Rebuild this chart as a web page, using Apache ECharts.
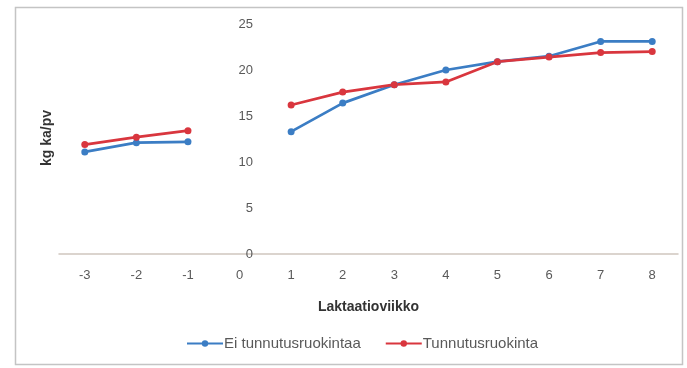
<!DOCTYPE html>
<html>
<head>
<meta charset="utf-8">
<script src="https://cdn.jsdelivr.net/npm/echarts@6/dist/echarts.min.js"></script>
<style>
  html, body { margin: 0; padding: 0; background: #fff; }
  #chart { width: 687px; height: 368px; }
</style>
</head>
<body>
<div id="chart"></div>
<script>
// Lactation weeks relative to calving; week 0 has no measurement
const weeks = ['-3', '-2', '-1', '0', '1', '2', '3', '4', '5', '6', '7', '8'];
// Dry matter intake, kg ka/pv
const eiTunnutus = [11.1, 12.1, 12.2, null, 13.3, 16.4, 18.4, 20.0, 20.9, 21.5, 23.1, 23.1];
const tunnutus   = [11.9, 12.7, 13.4, null, 16.2, 17.6, 18.4, 18.7, 20.9, 21.4, 21.9, 22.0];
const yTicks = [0, 5, 10, 15, 20, 25];

const chart = echarts.init(document.getElementById('chart'));
const textColor = '#595959';
const font = 'Liberation Sans';

const lineSeries = (name, data, color) => ({
  name: name,
  type: 'line',
  data: data,
  connectNulls: false,
  symbol: 'circle',
  symbolSize: 7,
  lineStyle: { color: color, width: 2.75 },
  itemStyle: { color: color },
  emphasis: { disabled: true },
  animation: false
});

chart.setOption({
  backgroundColor: '#fff',
  animation: false,
  grid: { left: 59, right: 9, top: 24, bottom: 114 },
  xAxis: {
    type: 'category',
    data: weeks,
    boundaryGap: true,
    name: 'Laktaatioviikko',
    nameLocation: 'middle',
    nameGap: 46,
    nameTextStyle: { fontFamily: font, fontSize: 14, fontWeight: 'bold', color: '#333' },
    axisLine: { lineStyle: { color: '#cfc6bf', width: 1.5 } },
    axisTick: { show: false },
    axisLabel: { fontFamily: font, fontSize: 13, color: textColor, margin: 15 }
  },
  yAxis: {
    type: 'value',
    min: yTicks[0],
    max: yTicks[yTicks.length - 1],
    interval: 5,
    position: 'left',
    offset: -197,
    axisLine: { show: false },
    axisTick: { show: false },
    splitLine: { show: false },
    axisLabel: { fontFamily: font, fontSize: 13, color: textColor, margin: 3 }
  },
  legend: {
    top: 331,
    left: 181,
    itemGap: 24,
    itemWidth: 36,
    itemHeight: 8,
    textStyle: { fontFamily: font, fontSize: 15, color: textColor, padding: [0, 0, 0, -4] },
    data: ['Ei tunnutusruokintaa', 'Tunnutusruokinta']
  },
  graphic: [
    {
      type: 'rect',
      shape: { x: 15.5, y: 7.5, width: 667, height: 357 },
      style: { fill: 'none', stroke: '#c4c4c4', lineWidth: 1.5 },
      silent: true,
      z: -1
    },
    {
      type: 'text',
      x: 47,
      y: 138,
      rotation: Math.PI / 2,
      style: {
        text: 'kg ka/pv',
        fontFamily: font,
        fontSize: 14,
        fontWeight: 'bold',
        fill: '#333',
        align: 'center',
        verticalAlign: 'middle'
      }
    }
  ],
  series: [
    lineSeries('Ei tunnutusruokintaa', eiTunnutus, '#3b7dc4'),
    lineSeries('Tunnutusruokinta', tunnutus, '#d9363e')
  ]
});
</script>
</body>
</html>
